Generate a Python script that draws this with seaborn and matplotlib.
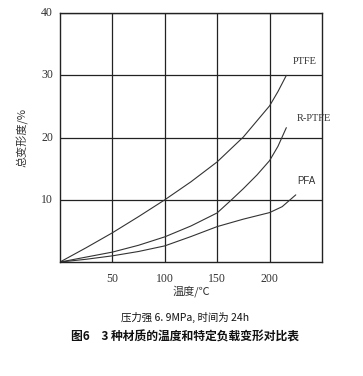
import matplotlib
matplotlib.use("Agg")
import matplotlib.pyplot as plt
import seaborn as sns
import pandas as pd

ptfe_x = [0, 25, 50, 75, 100, 125, 150, 175, 200, 208, 216]
ptfe_y = [0, 2.3, 4.7, 7.3, 10, 12.9, 16.1, 20.1, 25.1, 27.4, 30]
rptfe_x = [0, 25, 50, 75, 100, 125, 150, 163, 175, 188, 200, 208, 216]
rptfe_y = [0, 0.8, 1.6, 2.7, 4.05, 5.8, 7.9, 9.9, 11.8, 14.0, 16.3, 18.6, 21.6]
pfa_x = [0, 25, 50, 75, 100, 125, 150, 175, 200, 212, 225]
pfa_y = [0, 0.45, 1.0, 1.7, 2.6, 4.1, 5.7, 6.9, 7.95, 8.9, 10.8]
xticks = [50, 100, 150, 200]
yticks = [10, 20, 30, 40]
labels = ["PTFE", "R-PTFE", "PFA"]

sns.set_theme(style="white")
plt.rcParams['font.family'] = ['Liberation Serif', 'Noto Sans CJK SC', 'DejaVu Sans']

fig = plt.figure(figsize=(3.63, 3.76), dpi=100)
ax = fig.add_axes([0.165, 0.303, 0.722, 0.662])

df = pd.concat([
    pd.DataFrame({"x": ptfe_x, "y": ptfe_y, "m": labels[0]}),
    pd.DataFrame({"x": rptfe_x, "y": rptfe_y, "m": labels[1]}),
    pd.DataFrame({"x": pfa_x, "y": pfa_y, "m": labels[2]}),
])
sns.lineplot(data=df, x="x", y="y", units="m", estimator=None, color="#333333",
             lw=0.8, ax=ax, legend=False)

ax.set_xlim(0, 250)
ax.set_ylim(0, 40)
ax.set_xticks(xticks)
ax.set_yticks(yticks)
ax.set_xticklabels([str(t) for t in xticks], fontsize=8.5, color="#333333")
ax.set_yticklabels([str(t) for t in yticks], fontsize=8.5, color="#333333")
ax.tick_params(axis='x', length=0, pad=8)
ax.tick_params(axis='y', length=0, pad=5)
for t in ax.get_yticklabels():
    t.set_verticalalignment('center')
ax.grid(True, color="#222222", lw=0.9)
for s in ax.spines.values():
    s.set_color("#222222")
    s.set_linewidth(1.0)
    s.set_visible(True)

ax.text(222, 32.3, "PTFE", fontsize=7.5, color="#333333", ha='left', va='center')
ax.text(226, 23, "R-PTFE", fontsize=7.5, color="#333333", ha='left', va='center')
ax.text(226, 13, "PFA", fontsize=7, color="#333333", family=['Liberation Sans'], ha='left', va='center')

ax.set_xlabel("温度/℃", fontsize=8, color="#333333", labelpad=0,
              family=['Noto Sans CJK SC', 'DejaVu Sans'])
ax.set_ylabel("总变形度/%", fontsize=8, color="#333333", labelpad=9,
              family=['Noto Sans CJK SC', 'DejaVu Sans'])

fig.text(0.51, 1 - 317 / 376, "压力强 6. 9MPa, 时间为 24h", fontsize=7.5, ha='center', va='center',
         family=['Noto Sans CJK SC', 'DejaVu Sans'], color="#111111")
fig.text(0.51, 1 - 337 / 376, "图6　3 种材质的温度和特定负载变形对比表", fontsize=8.5, ha='center', va='center',
         fontweight='bold', family=['Noto Sans CJK SC', 'DejaVu Sans'], color="#111111")

fig.savefig("out.png", dpi=100)
